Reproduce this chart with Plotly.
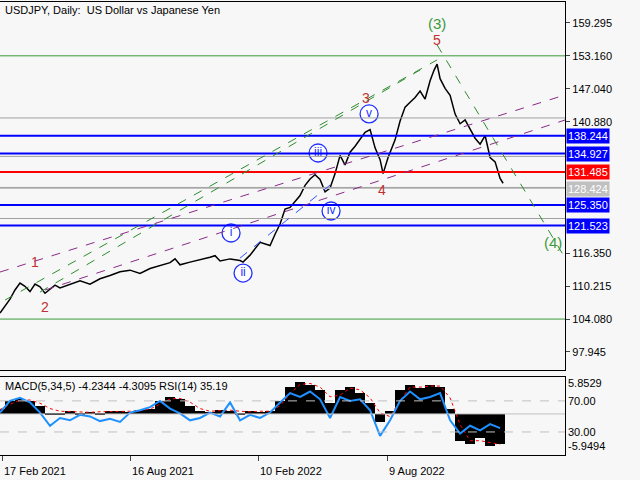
import plotly.graph_objects as go

# ---------------- data ----------------
px_x = [0,5,10,15,20,25,30,35,40,45,50,55,60,70,80,90,100,110,120,130,140,150,160,170,175,180,190,200,210,215,220,230,240,243,250,260,270,275,280,285,290,295,300,305,310,315,320,325,330,335,340,345,350,355,360,365,370,372,375,380,383,388,395,400,405,410,415,420,425,430,434,437,440,445,450,455,460,465,470,475,480,485,490,495,500,503]
px_y = [105.2,106.5,107.8,109.5,110.8,110.2,109.2,110.6,110.1,108.9,109.7,110.4,109.9,110.5,111.2,110.6,111.6,112.2,112.9,113.2,112.6,113.5,114.0,114.6,115.3,114.2,114.7,115.1,115.6,115.9,114.9,115.3,115.0,114.7,116.0,118.4,117.8,119.9,121.8,124.6,124.9,126.0,127.1,129.0,130.2,131.0,130.1,127.8,128.5,131.2,134.6,132.8,135.2,136.3,137.6,138.9,139.4,138.2,136.0,133.8,131.2,134.2,137.5,141.0,143.6,144.5,145.4,146.6,145.1,148.5,150.5,151.6,148.9,147.1,145.8,142.3,140.5,141.2,139.4,137.8,136.7,138.3,134.2,133.4,130.3,129.4]

macd_x = list(range(0, 510, 10))
macd_hist = [1.0,2.5,2.8,2.5,1.5,0.2,0.3,0.5,0.2,0.4,0.3,0.5,0.6,0.4,0.8,1.0,2.5,3.2,2.8,1.5,0.5,0.4,0.8,0.6,0.3,0.5,0.4,0.6,2.5,5.0,6.0,5.5,4.5,2.0,4.5,5.0,4.0,2.0,-1.5,0.5,4.5,5.5,4.8,5.5,5.0,1.0,-5.0,-5.5,-4.5,-6.0,-5.5]
macd_sig = [0.8,1.8,2.6,2.6,2.0,1.0,0.5,0.4,0.4,0.3,0.4,0.4,0.5,0.5,0.6,0.9,1.8,2.8,2.9,2.2,1.0,0.5,0.6,0.7,0.5,0.4,0.5,0.5,1.5,3.8,5.5,5.7,5.0,3.2,3.5,4.8,4.5,3.0,0.2,-0.5,2.5,5.0,5.0,5.2,5.2,3.0,-2.0,-5.0,-5.0,-5.3,-5.7]
rsi = [55,70,74,68,55,38,48,45,52,50,44,47,43,55,58,62,70,60,54,45,48,55,50,68,45,52,48,55,68,80,75,82,72,48,75,70,72,58,25,45,70,82,72,75,80,45,28,38,32,40,35]

date_idx = [2, 130, 258, 387]
date_lbl = ["17 Feb 2021", "16 Aug 2021", "10 Feb 2022", "9 Aug 2022"]

levels = [138.244, 134.927, 131.485, 128.424, 125.350, 121.523]
level_col = ["#0000ff", "#0000ff", "#ff0000", "#c0c0c0", "#0000ff", "#0000ff"]
fib_lvl = ["0.0", "23.6", "38.2", "50.0", "61.8", "100.0"]
fib_val = [153.160, 141.577, 134.411, 128.620, 122.828, 104.080]

ticks = [97.945, 104.080, 110.215, 116.350, 140.880, 147.040, 153.160, 159.295]

# ---------------- figure ----------------
YR = [94.57, 163.21]
def P(y):  # pixel row -> price, for overlay drawing positions
    return 159.295 - (y - 23) / 5.361

fig = go.Figure()
for lbl, v in zip(fib_lvl, fib_val):
    col = "#3a9a3a" if lbl in ("0.0", "100.0") else "#a0a0a0"
    fig.add_shape(type="line", x0=0, x1=565, y0=v, y1=v, line=dict(color=col, width=1))
    fig.add_annotation(x=568, y=v, text=lbl, showarrow=False, xanchor="right", yanchor="bottom",
                       font=dict(color="#3a9a3a", size=11))
for v, c in zip(levels, level_col):
    fig.add_shape(type="line", x0=0, x1=565, y0=v, y1=v, line=dict(color=c, width=2 if c != "#c0c0c0" else 1))
    fig.add_annotation(x=0.884, xref="paper", y=v, yref="y", text=f"{v:.3f}", showarrow=False, xanchor="left",
                       bgcolor=c, font=dict(color="white", size=11), borderpad=1)
segs = [((5, 300), (437, 60), "#2e8b2e"), ((40, 292), (420, 70), "#2e8b2e"),
        ((0, 272), (565, 95), "#8a2a8a"), ((45, 290), (565, 120), "#8a2a8a"),
        ((240, 258), (330, 185), "#3050ff"), ((437, 45), (565, 258), "#2e8b2e")]
for (x0, y0), (x1, y1), c in segs:
    fig.add_shape(type="line", x0=x0, x1=x1, y0=P(y0), y1=P(y1), line=dict(color=c, width=1, dash="dash"))

fig.add_trace(go.Scatter(x=px_x, y=px_y, mode="lines", line=dict(color="black", width=1.5), showlegend=False))

for t, x, y, c in [("(3)", 437, 24, "#3a9a3a"), ("5", 437, 40, "#c03030"), ("3", 366, 98, "#c03030"),
                   ("4", 382, 190, "#c03030"), ("1", 35, 262, "#c03030"), ("2", 45, 307, "#c03030"),
                   ("(4)", 553, 242, "#3a9a3a")]:
    fig.add_annotation(x=x, y=P(y), text=t, showarrow=False, font=dict(color=c, size=15 if "(" in t else 14))
roman = ["i", "ii", "iii", "iv", "v"]
rx = [231, 243, 318, 331, 369]
ry = [233, 273, 153, 211, 114]
fig.add_trace(go.Scatter(x=rx, y=[P(v) for v in ry], mode="markers+text", text=roman,
                         textposition="middle center", textfont=dict(color="#2030ff", size=12),
                         marker=dict(symbol="circle", size=18, color="white", line=dict(color="#2030ff", width=1.3)),
                         showlegend=False))

fig.add_trace(go.Bar(x=macd_x, y=macd_hist, width=10, marker=dict(color="black", line=dict(width=0)),
                     xaxis="x2", yaxis="y2", showlegend=False))
fig.add_trace(go.Scatter(x=macd_x, y=macd_sig, mode="lines", line=dict(color="red", width=1, dash="dot"),
                         xaxis="x2", yaxis="y2", showlegend=False))
fig.add_trace(go.Scatter(x=macd_x, y=rsi, mode="lines", line=dict(color="#1e90ff", width=2),
                         xaxis="x2", yaxis="y3", showlegend=False))
for v in (30, 70):
    fig.add_shape(type="line", x0=0, x1=565, y0=v, y1=v, xref="x2", yref="y3",
                  line=dict(color="#c0c0c0", width=1, dash="dash"))
fig.add_shape(type="line", x0=0, x1=565, y0=0, y1=0, xref="x2", yref="y2", line=dict(color="#c0c0c0", width=1))
for t, yy, ref in [("5.8529", 5.85, "y2"), ("70.00", 70, "y3"), ("30.00", 30, "y3"), ("-5.9494", -5.95, "y2")]:
    fig.add_annotation(x=0.885, xref="paper", y=yy, yref=ref, text=t, showarrow=False, xanchor="left",
                       font=dict(size=11, color="black"))
for i, l in zip(date_idx, date_lbl):
    fig.add_annotation(x=i, xref="x2", y=0.003, yref="paper", text=l, showarrow=False, xanchor="left",
                       yanchor="bottom", font=dict(size=11, color="black"))
fig.add_annotation(x=0.005, xref="paper", y=0.213, yref="paper", text="MACD(5,34,5) -4.2344 -4.3095 RSI(14) 35.19",
                   showarrow=False, xanchor="left", yanchor="top", font=dict(size=11, color="black"))
fig.add_annotation(x=0.005, xref="paper", y=0.995, yref="paper", text="USDJPY, Daily:  US Dollar vs Japanese Yen",
                   showarrow=False, xanchor="left", yanchor="top", font=dict(size=11, color="black"))

ax = dict(showgrid=False, zeroline=False, mirror=True, showline=True, linecolor="black", linewidth=1, automargin=False)
fig.update_layout(
    width=640, height=480, margin=dict(l=0, r=0, t=0, b=0),
    paper_bgcolor="#f7f7f7", plot_bgcolor="#f7f7f7",
    font=dict(family="Liberation Sans", size=11, color="black"),
    bargap=0,
    xaxis=dict(domain=[0, 0.883], range=[0, 565], showticklabels=False, anchor="y", **ax),
    yaxis=dict(domain=[0.229, 0.996], range=YR, side="right", tickvals=ticks,
               ticktext=[f"{t:.3f}" for t in ticks], ticks="outside", ticklen=4, **ax),
    xaxis2=dict(domain=[0, 0.883], range=[0, 565], anchor="y2", tickvals=date_idx, showticklabels=False,
                ticks="outside", ticklen=5, **ax),
    yaxis2=dict(domain=[0.052, 0.215], range=[-7.68, 6.93], side="right", showticklabels=False, anchor="x2", **ax),
    yaxis3=dict(domain=[0.052, 0.215], range=[0.3, 101], overlaying="y2", anchor="x2", visible=False),
)
fig.write_html("out.html", config={"displayModeBar": False},
               post_script="document.body.style.margin='0';document.body.style.overflow='hidden';")
